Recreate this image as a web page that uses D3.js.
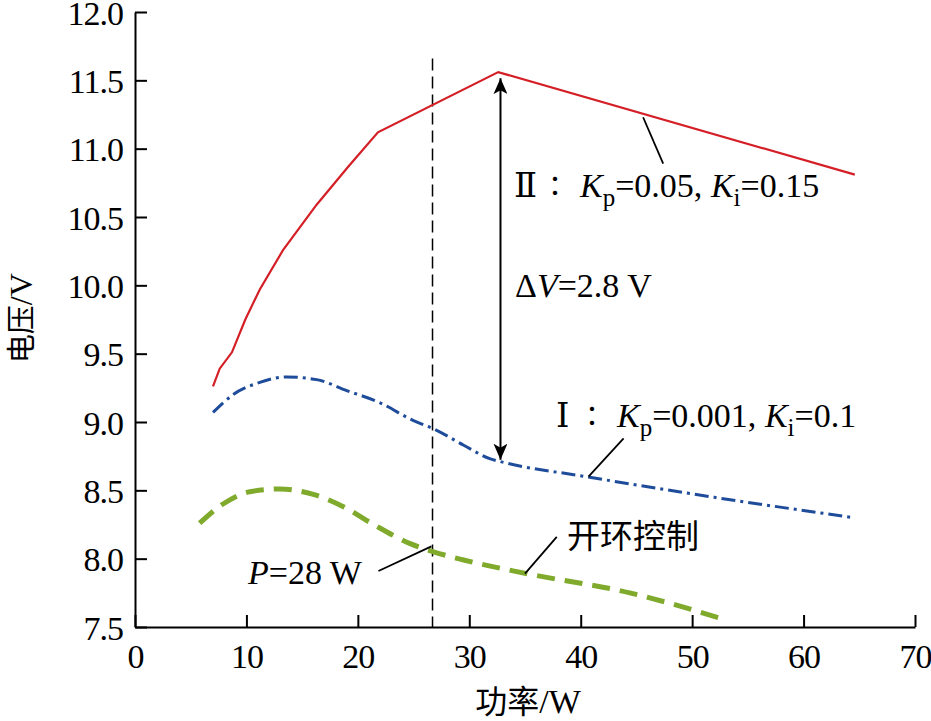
<!DOCTYPE html>
<html>
<head>
<meta charset="utf-8">
<script src="https://cdn.jsdelivr.net/npm/d3@7"></script>
<style>
  body { margin: 0; background: #fff; }
  svg text { font-family: 'Liberation Serif', 'Times New Roman', serif; fill: #000; }
  .cjk { font-family: 'Noto Sans CJK SC', sans-serif; }
</style>
</head>
<body>
<div id="chart"></div>
<script>
// series: [power W, voltage V]
const curveII = [
  [7.0, 9.26], [7.6, 9.39], [8.7, 9.51], [9.9, 9.75], [11.2, 9.97], [13.3, 10.26],
  [16.3, 10.59], [19.15, 10.87], [21.8, 11.12], [32.6, 11.56], [64.6, 10.81],
];
const curveI = [
  [7.0, 9.07], [8.8, 9.2], [11.2, 9.29], [13.6, 9.33], [16.3, 9.31], [19.0, 9.23],
  [22.0, 9.14], [25.0, 9.01], [26.8, 8.95], [29.5, 8.83], [31.9, 8.73], [32.8, 8.71],
  [40.5, 8.6], [51.9, 8.45], [64.5, 8.3],
];
const openLoop = [
  [5.8, 8.26], [7.9, 8.4], [10.3, 8.49], [13.0, 8.51], [16.0, 8.47], [18.7, 8.38],
  [21.4, 8.25], [24.7, 8.11], [26.8, 8.05], [29.5, 7.99], [35.2, 7.89], [44.4, 7.75],
  [53.1, 7.55],
];
const xTicks = [0, 10, 20, 30, 40, 50, 60, 70];
const yTicks = [7.5, 8.0, 8.5, 9.0, 9.5, 10.0, 10.5, 11.0, 11.5, 12.0];
const markerP = 26.7; // dashed line
const deltaV = { x: 32.8, top: 11.56, bottom: 8.71 };

const size = { width: 931, height: 721 };
const margin = { left: 135, right: 16, top: 12, bottom: 94 };

const svg = d3.select('#chart').append('svg')
  .attr('width', size.width)
  .attr('height', size.height);

const x = d3.scaleLinear().domain([0, 70]).range([margin.left, size.width - margin.right]);
const y = d3.scaleLinear().domain([7.5, 12]).range([size.height - margin.bottom, margin.top]);

// axes, ticks pointing inward
const xAxis = svg.append('g')
  .attr('transform', `translate(0, ${y(7.5)})`)
  .call(d3.axisBottom(x).tickValues(xTicks).tickSizeInner(-12).tickSizeOuter(0).tickPadding(17).tickFormat(d3.format('d')));
const yAxis = svg.append('g')
  .attr('transform', `translate(${x(0)}, 0)`)
  .call(d3.axisLeft(y).tickValues(yTicks).tickSizeInner(-12).tickSizeOuter(0).tickPadding(12).tickFormat(d3.format('.1f')));

[xAxis, yAxis].forEach((g) => {
  g.attr('font-family', null).attr('font-size', null);
  g.select('.domain').attr('stroke', '#000').attr('stroke-width', 2);
  g.selectAll('.tick line').attr('stroke', '#000').attr('stroke-width', 2);
  g.selectAll('.tick text')
    .style('font-family', "'Liberation Serif', serif")
    .style('font-size', '34px')
    .style('letter-spacing', '-1px')
    .attr('fill', '#000');
});
xAxis.selectAll('.tick text').attr('dy', '0.71em');
yAxis.selectAll('.tick text').attr('dy', '0.36em');

const xTitle = svg.append('text')
  .attr('x', 528)
  .attr('y', 713)
  .attr('text-anchor', 'middle')
  .style('font-size', '34px');
xTitle.append('tspan').attr('class', 'cjk').style('font-size', '32px').text('功率');
xTitle.append('tspan').text('/W');

const yTitle = svg.append('text')
  .attr('transform', `translate(32, ${y(9.76)}) rotate(-90)`)
  .attr('text-anchor', 'middle')
  .style('font-size', '32px');
yTitle.append('tspan').attr('class', 'cjk').style('font-size', '29px').text('电压');
yTitle.append('tspan').text('/V');

// vertical dashed marker
svg.append('line')
  .attr('x1', x(markerP)).attr('x2', x(markerP))
  .attr('y1', y(11.66)).attr('y2', y(7.5))
  .attr('stroke', '#000').attr('stroke-width', 1.5)
  .attr('stroke-dasharray', '12,6');

const line = d3.line().x((d) => x(d[0])).y((d) => y(d[1]));
const smooth = d3.line().x((d) => x(d[0])).y((d) => y(d[1])).curve(d3.curveMonotoneX);

svg.append('path')
  .attr('d', smooth(openLoop))
  .attr('fill', 'none')
  .attr('stroke', '#7faa2c')
  .attr('stroke-width', 5)
  .attr('stroke-dasharray', '18,10');

svg.append('path')
  .attr('d', smooth(curveI))
  .attr('fill', 'none')
  .attr('stroke', '#1f4c9a')
  .attr('stroke-width', 3)
  .attr('stroke-dasharray', '14,5,3,5');

svg.append('path')
  .attr('d', line(curveII))
  .attr('fill', 'none')
  .attr('stroke', '#d41f26')
  .attr('stroke-width', 2.2);

// delta V double arrow
svg.append('defs').selectAll('marker')
  .data(['start', 'end'])
  .join('marker')
  .attr('id', (d) => `arrow-${d}`)
  .attr('viewBox', '0 0 16 14')
  .attr('refX', 16).attr('refY', 7)
  .attr('markerWidth', 16).attr('markerHeight', 14)
  .attr('markerUnits', 'userSpaceOnUse')
  .attr('orient', 'auto-start-reverse')
  .append('path')
  .attr('d', 'M0,0 L16,7 L0,14 L4,7 Z')
  .attr('fill', '#000');

svg.append('line')
  .attr('x1', x(deltaV.x)).attr('x2', x(deltaV.x))
  .attr('y1', y(deltaV.top) + 6).attr('y2', y(deltaV.bottom) - 2)
  .attr('stroke', '#000').attr('stroke-width', 2)
  .attr('marker-start', 'url(#arrow-start)')
  .attr('marker-end', 'url(#arrow-end)');

// leader lines
const leaders = [
  [[47.4, 10.89], [45.6, 11.23]],
  [[43.85, 8.88], [40.7, 8.6]],
  [[37.85, 8.16], [35.0, 7.89]],
  [[21.85, 7.91], [26.6, 8.09]],
];
leaders.forEach((l) => {
  svg.append('line')
    .attr('x1', x(l[0][0])).attr('y1', y(l[0][1]))
    .attr('x2', x(l[1][0])).attr('y2', y(l[1][1]))
    .attr('stroke', '#000').attr('stroke-width', 1.8);
});

// parameter labels
const paramLabel = (px, kx, py, roman, kp, ki) => {
  svg.append('text').attr('x', px).attr('y', py)
    .style('font-size', '34px')
    .style('font-family', "'DejaVu Serif', 'Liberation Serif', serif")
    .style('font-weight', 300)
    .text(roman);
  svg.append('text').attr('class', 'cjk').attr('x', kx - 32).attr('y', py - 2)
    .style('font-size', '28px')
    .text('：');
  const t = svg.append('text').attr('x', kx).attr('y', py).style('font-size', '34px');
  t.append('tspan').style('font-style', 'italic').text('K');
  t.append('tspan').attr('dy', 9).style('font-size', '25px').text('p');
  t.append('tspan').attr('dy', -9).text(`=${kp}, `);
  t.append('tspan').style('font-style', 'italic').text('K');
  t.append('tspan').attr('dy', 9).style('font-size', '25px').text('i');
  t.append('tspan').attr('dy', -9).text(`=${ki}`);
};
paramLabel(514, 580, 197, 'Ⅱ', '0.05', '0.15');
paramLabel(556, 617, 427, 'Ⅰ', '0.001', '0.1');

const dv = svg.append('text').attr('x', 515).attr('y', 297).style('font-size', '34px');
dv.append('tspan').text('Δ');
dv.append('tspan').style('font-style', 'italic').text('V');
dv.append('tspan').text('=2.8 V');

const pl = svg.append('text').attr('x', 248).attr('y', 584).style('font-size', '34px');
pl.append('tspan').style('font-style', 'italic').text('P');
pl.append('tspan').text('=28 W');

svg.append('text')
  .attr('class', 'cjk')
  .attr('x', 567)
  .attr('y', 548)
  .style('font-size', '33px')
  .text('开环控制');
</script>
</body>
</html>
